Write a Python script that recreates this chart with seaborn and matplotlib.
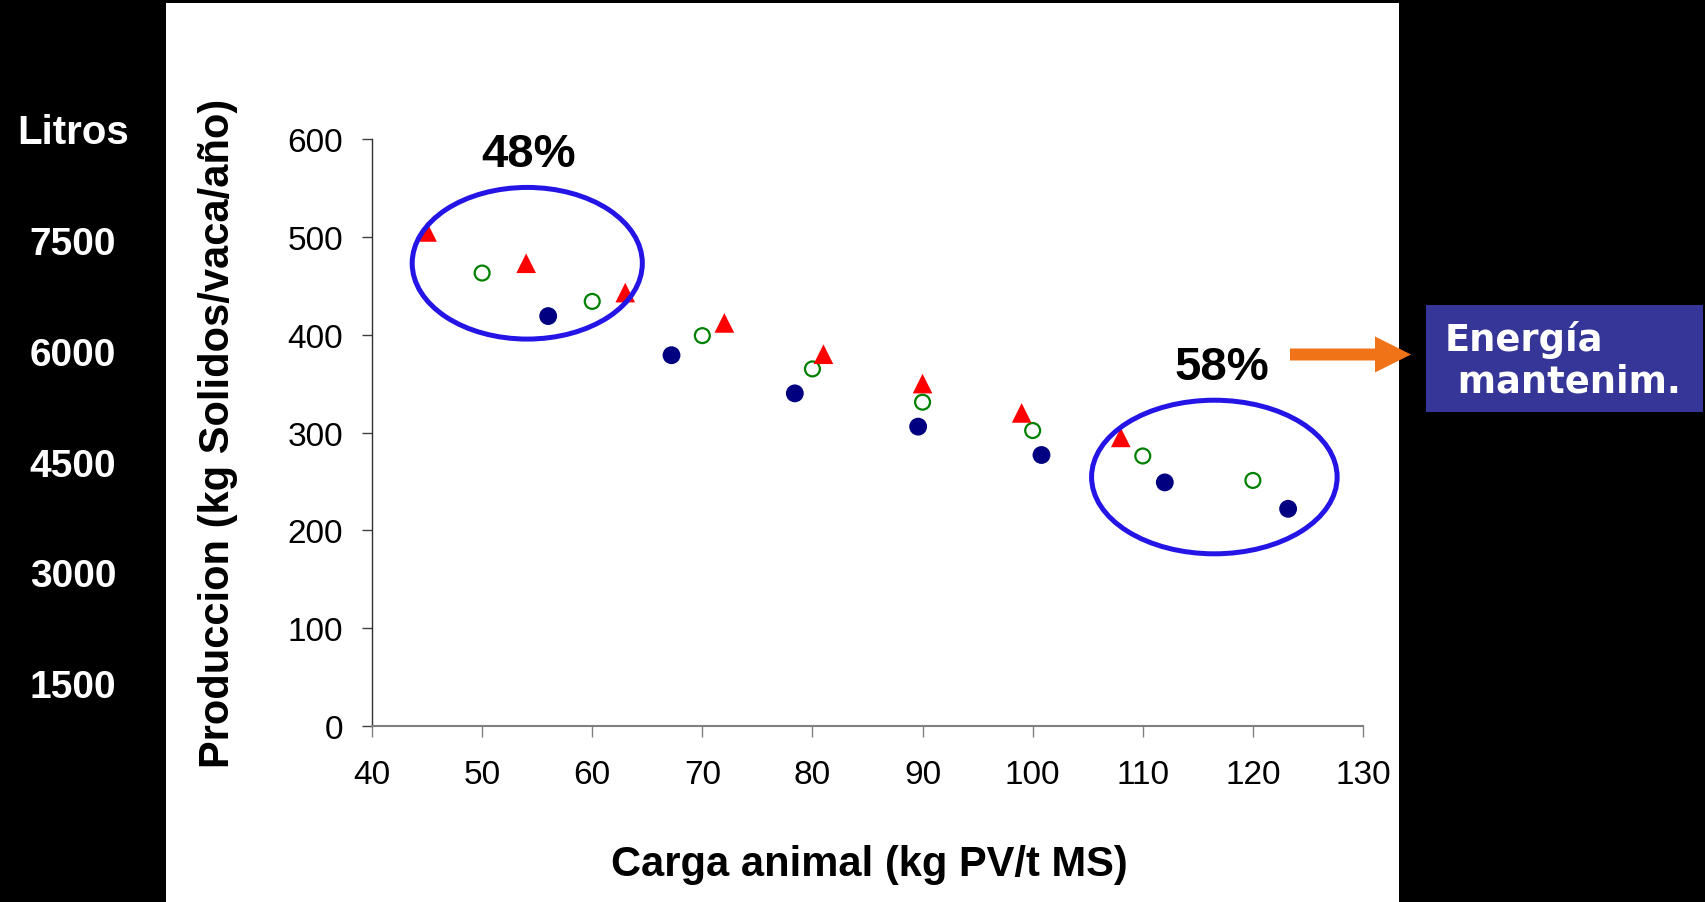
import numpy as np
import pandas as pd
import matplotlib
matplotlib.use("Agg")
import matplotlib.pyplot as plt
import seaborn as sns
from matplotlib.patches import Ellipse, Rectangle, FancyArrow

# ---------------- data ----------------
tri_x = [45, 54, 63, 72, 81, 90, 99, 108]
tri_y = [505, 473, 443, 412, 380, 350, 320, 295]
open_x = [50, 60, 70, 80, 90, 100, 110, 120]
open_y = [463, 434, 399, 365, 331, 302, 276, 251]
fill_x = [56, 67.2, 78.4, 89.6, 100.8, 112, 123.2]
fill_y = [419, 379, 340, 306, 277, 249, 222]
x_ticks = [40, 50, 60, 70, 80, 90, 100, 110, 120, 130]
y_ticks = [0, 100, 200, 300, 400, 500, 600]
litros_labels = ["7500", "6000", "4500", "3000", "1500"]
pct_labels = ["48%", "58%"]

sns.set_theme(style="white")
plt.rcParams['font.family'] = ['Liberation Sans', 'DejaVu Sans']
plt.rcParams['text.color'] = 'black'

W, H = 1706, 903
fig = plt.figure(figsize=(W / 100, H / 100), dpi=100, facecolor='black')

def fx(px):
    return px / W

def fy(py):
    return 1 - py / H

# white slide panel
fig.patches.append(Rectangle((fx(166), 0), fx(1399) - fx(166), fy(4), transform=fig.transFigure,
                             facecolor='white', edgecolor='none', zorder=-10))

ax = fig.add_axes([fx(372), fy(727), fx(1363) - fx(372), fy(140) - fy(727)])
ax.set_facecolor('none')

df_tri = pd.DataFrame({"x": tri_x, "y": tri_y})
df_open = pd.DataFrame({"x": open_x, "y": open_y})
df_fill = pd.DataFrame({"x": fill_x, "y": fill_y})

sns.scatterplot(data=df_fill, x="x", y="y", ax=ax, marker='o', s=165, color='#000080',
                edgecolor='none', linewidth=0, zorder=3)
sns.scatterplot(data=df_open, x="x", y="y", ax=ax, marker='o', s=115, color='#008000',
                facecolor='none', edgecolor='#008000', linewidth=1.6, zorder=3)
sns.scatterplot(data=df_tri, x="x", y="y", ax=ax, marker='^', s=200, color='#ff0000',
                edgecolor='none', linewidth=0, zorder=3)

ax.set_xlim(x_ticks[0], x_ticks[-1])
ax.set_ylim(y_ticks[0], y_ticks[-1])
ax.set_xticks(x_ticks)
ax.set_yticks(y_ticks)
ax.set_xlabel("")
ax.set_ylabel("")
ax.tick_params(axis='both', labelsize=24, labelcolor='black')
ax.tick_params(axis='x', direction='out', length=8, width=1, pad=16, color='#808080', bottom=True)
ax.tick_params(axis='y', direction='out', length=7, width=1, pad=14, color='#404040', left=True)
for s in ['top', 'right']:
    ax.spines[s].set_visible(False)
ax.spines['left'].set_color('#303030')
ax.spines['left'].set_linewidth(1)
ax.spines['bottom'].set_color('#808080')
ax.spines['bottom'].set_linewidth(1.5)

# ellipses (annotation circles)
ax.add_patch(Ellipse((54.1, 473), 20.9, 155, fill=False, edgecolor='#2415E6', lw=3.6, clip_on=False, zorder=4))
ax.add_patch(Ellipse((116.5, 254.5), 22.3, 157, fill=False, edgecolor='#2415E6', lw=3.6, clip_on=False, zorder=4))

ax.text(54.2, 585, pct_labels[0], fontsize=34, fontweight='bold', ha='center', va='center',
        color='black', clip_on=False)
ax.text(117.2, 367, pct_labels[1], fontsize=34, fontweight='bold', ha='center', va='center',
        color='black', clip_on=False)

# axis labels
fig.text(fx(218), fy(433), "Produccion (kg Solidos/vaca/año)", rotation=90, fontsize=30,
         fontweight='bold', ha='center', va='center', color='black')
fig.text(fx(869), fy(865), "Carga animal (kg PV/t MS)", fontsize=30,
         fontweight='bold', ha='center', va='center', color='black')

# left black margin: litres scale
fig.text(fx(73), fy(133), "Litros", fontsize=29, fontweight='bold', color='white', ha='center', va='center')
for i, lab in enumerate(litros_labels):
    fig.text(fx(73), fy(245 + i * 110.8), lab, fontsize=28, fontweight='bold', color='white',
             ha='center', va='center')

# orange arrow
fig.patches.append(FancyArrow(1290 / 100, (H - 355.5) / 100, 121 / 100, 0, width=12 / 100,
                              head_width=36 / 100, head_length=36 / 100, length_includes_head=True,
                              transform=fig.dpi_scale_trans, facecolor='#F07318', edgecolor='none',
                              zorder=5))

# blue box
fig.patches.append(Rectangle((fx(1426), fy(413)), fx(1703) - fx(1426), fy(306) - fy(413),
                             transform=fig.transFigure, facecolor='#363699', edgecolor='none', zorder=5))
fig.text(fx(1445), fy(361), "Energía\n mantenim.", fontsize=26.5, fontweight='bold', color='white',
         ha='left', va='center', linespacing=1.15, family=['DejaVu Sans'], zorder=6)

fig.savefig("out.png", dpi=100, facecolor='black')
